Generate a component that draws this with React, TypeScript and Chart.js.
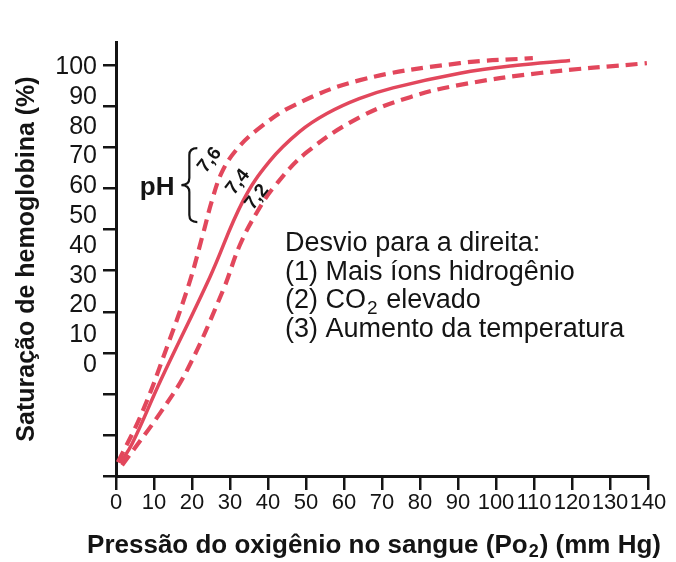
import { useEffect, useRef } from "react";
import { Chart, registerables } from "chart.js";

Chart.register(...registerables);

// ---------- data ----------
const X_TICKS = [0, 10, 20, 30, 40, 50, 60, 70, 80, 90, 100, 110, 120, 130, 140];
const Y_LABELS = [0, 10, 20, 30, 40, 50, 60, 70, 80, 90, 100];
// tick marks on the y axis (they do not coincide with the printed labels in the original figure)
const Y_TICK_MARKS = [100.7, 86.9, 73.1, 59.3, 45.5, 31.7, 17.9, 4.1, -9.7, -23.5, -37.2];
const Y_MIN = -37.2;
const Y_MAX = 108.4;

// pH 7.6 (dashed, left-shifted)
const PO2_76 = [0.5, 6.8, 13.4, 19.2, 22.9, 25.3, 27.9, 31.6, 37.1, 46.6, 64.2, 90.5, 109.7];
const SAT_76 = [-32.6, -16.1, 6.0, 27.2, 44.0, 55.4, 64.8, 72.1, 78.9, 87.0, 95.6, 101.3, 103.0];
// pH 7.4 (solid, normal)
const PO2_74 = [1.1, 4.2, 11.8, 24.7, 33.4, 40.5, 48.4, 55.5, 64.0, 72.9, 90.5, 105.0, 119.5];
const SAT_74 = [-32.9, -26.5, -5.0, 29.5, 55.0, 68.5, 78.4, 84.4, 89.4, 93.0, 97.9, 100.5, 102.2];
// pH 7.2 (dashed, right-shifted)
const PO2_72 = [1.6, 11.6, 18.7, 28.2, 32.6, 37.1, 41.8, 50.3, 64.2, 77.4, 90.5, 111.6, 139.7];
const SAT_72 = [-33.6, -16.1, -1.7, 25.2, 40.3, 51.3, 60.1, 71.5, 83.2, 89.9, 94.0, 98.0, 101.3];

const PH_VALUES = ["7,6", "7,4", "7,2"];
const PH_LABEL_X = [24.7, 32.1, 37.1];
const PH_LABEL_Y = [68.8, 61.4, 56.4];
const PH_TEXT = "pH";
const PH_POS = [15.4, 59.4];
const BRACE_X = [17.2, 19.3, 21.4]; // tip, middle, arms
const BRACE_Y = [72.8, 60.4, 48.0]; // top, tip, bottom

const NOTE_LINES = [
  "Desvio para a direita:",
  "(1) Mais íons hidrogênio",
  "(2) CO₂ elevado",
  "(3) Aumento da temperatura",
];
const NOTE_X = 44.5;
const NOTE_Y = [40.8, 31.1, 21.7, 12.0];

const X_TITLE = "Pressão do oxigênio no sangue (Po₂) (mm Hg)";
const X_TITLE_CENTER = 67.9; // in mm Hg units
const Y_TITLE = "Saturação de hemoglobina (%)";

const FONT = '"Liberation Sans", Arial, Helvetica, sans-serif';
const INK = "#141414";
const CURVE = "#e2475c";

const pts = (xs: number[], ys: number[]) => xs.map((x, i) => ({ x, y: ys[i] }));

// draws text with a lowered, smaller "2" wherever "₂" appears
function drawSubText(ctx: any, text: string, x: number, y: number, font: string, subFont: string, drop: number) {
  const parts = text.split("₂");
  parts.forEach((part, j) => {
    ctx.font = font;
    ctx.fillText(part, x, y);
    x += ctx.measureText(part).width;
    if (j < parts.length - 1) {
      ctx.font = subFont;
      ctx.fillText("2", x + 1, y + drop);
      x += ctx.measureText("2").width + 2;
    }
  });
}

function measureSubText(ctx: any, text: string, font: string, subFont: string) {
  const parts = text.split("₂");
  let w = 0;
  parts.forEach((part, j) => {
    ctx.font = font;
    w += ctx.measureText(part).width;
    if (j < parts.length - 1) {
      ctx.font = subFont;
      w += ctx.measureText("2").width + 2;
    }
  });
  return w;
}

const annotationPlugin = {
  id: "figureAnnotations",
  afterDatasetsDraw(chart: any) {
    const { ctx } = chart;
    const xs = chart.scales.x;
    const ys = chart.scales.y;
    const px = (v: number) => xs.getPixelForValue(v);
    const py = (v: number) => ys.getPixelForValue(v);
    ctx.save();
    ctx.fillStyle = INK;
    ctx.strokeStyle = INK;

    // "pH"
    ctx.font = `bold 26px ${FONT}`;
    ctx.textAlign = "right";
    ctx.textBaseline = "middle";
    ctx.fillText(PH_TEXT, px(PH_POS[0]), py(PH_POS[1]));

    // curly brace
    const xl = px(BRACE_X[0]);
    const xm = px(BRACE_X[1]);
    const xr = px(BRACE_X[2]);
    const top = py(BRACE_Y[0]);
    const mid = py(BRACE_Y[1]);
    const bot = py(BRACE_Y[2]);
    const r = 7;
    ctx.lineWidth = 2.2;
    ctx.beginPath();
    ctx.moveTo(xr, top);
    ctx.quadraticCurveTo(xm, top, xm, top + r);
    ctx.lineTo(xm, mid - r);
    ctx.quadraticCurveTo(xm, mid, xl, mid);
    ctx.quadraticCurveTo(xm, mid, xm, mid + r);
    ctx.lineTo(xm, bot - r);
    ctx.quadraticCurveTo(xm, bot, xr, bot);
    ctx.stroke();

    // pH values along the curves
    ctx.font = `bold 19px ${FONT}`;
    ctx.textAlign = "center";
    PH_VALUES.forEach((t, i) => {
      ctx.save();
      ctx.translate(px(PH_LABEL_X[i]), py(PH_LABEL_Y[i]));
      ctx.rotate((-52 * Math.PI) / 180);
      ctx.fillText(t, 0, 0);
      ctx.restore();
    });

    // note block
    ctx.textAlign = "left";
    ctx.textBaseline = "middle";
    NOTE_LINES.forEach((line, i) => {
      drawSubText(ctx, line, px(NOTE_X), py(NOTE_Y[i]), `27px ${FONT}`, `19px ${FONT}`, 8);
    });

    // x-axis title (drawn here so that it is not squeezed to the plot width)
    const tf = `bold 26px ${FONT}`;
    const sf = `bold 18px ${FONT}`;
    const w = measureSubText(ctx, X_TITLE, tf, sf);
    drawSubText(ctx, X_TITLE, px(X_TITLE_CENTER) - w / 2, xs.bottom - 16, tf, sf, 6);
    ctx.restore();
  },
};

export default function App() {
  const ref = useRef<HTMLCanvasElement | null>(null);

  useEffect(() => {
    if (!ref.current) return;
    const common = {
      pointRadius: 0,
      fill: false,
      tension: 0.4,
      borderColor: CURVE,
      borderCapStyle: "butt" as const,
      xAxisID: "x",
      yAxisID: "y",
    };
    const chart = new Chart(ref.current, {
      type: "line",
      data: {
        datasets: [
          { ...common, label: "pH 7,6", data: pts(PO2_76, SAT_76), borderWidth: 4.2, borderDash: [12, 7] },
          { ...common, label: "pH 7,4", data: pts(PO2_74, SAT_74), borderWidth: 3.5 },
          { ...common, label: "pH 7,2", data: pts(PO2_72, SAT_72), borderWidth: 4.2, borderDash: [12, 7] },
        ],
      },
      options: {
        animation: false,
        responsive: false,
        layout: { padding: { top: 42, right: 28, left: 0, bottom: 0 } },
        plugins: { legend: { display: false }, tooltip: { enabled: false } },
        scales: {
          x: {
            type: "linear",
            position: "bottom",
            min: 0,
            max: 140,
            afterBuildTicks: (s: any) => {
              s.ticks = X_TICKS.map((v) => ({ value: v }));
            },
            afterFit: (s: any) => {
              s.height = 86;
            },
            ticks: {
              font: { family: FONT, size: 22 },
              color: INK,
              padding: 0,
              maxRotation: 0,
              minRotation: 0,
              autoSkip: false,
            },
            grid: { drawOnChartArea: false, drawTicks: true, tickLength: 14, color: INK, lineWidth: 2.5 },
            border: { display: true, color: INK, width: 3 },
            title: { display: false, text: X_TITLE },
          },
          yMarks: {
            type: "linear",
            position: "left",
            weight: 0,
            min: Y_MIN,
            max: Y_MAX,
            afterBuildTicks: (s: any) => {
              s.ticks = Y_TICK_MARKS.map((v) => ({ value: v }));
            },
            afterFit: (s: any) => {
              s.width = 14;
            },
            ticks: { display: false },
            grid: { drawOnChartArea: false, drawTicks: true, tickLength: 13, color: INK, lineWidth: 2.5 },
            border: { display: true, color: INK, width: 3 },
          },
          y: {
            type: "linear",
            position: "left",
            weight: 1,
            min: Y_MIN,
            max: Y_MAX,
            afterBuildTicks: (s: any) => {
              s.ticks = Y_LABELS.map((v) => ({ value: v }));
            },
            afterFit: (s: any) => {
              s.width = 102;
            },
            ticks: { font: { family: FONT, size: 25 }, color: INK, padding: 5 },
            grid: { display: false, drawTicks: false },
            border: { display: false },
            title: {
              display: true,
              text: Y_TITLE,
              color: INK,
              font: { family: FONT, size: 25, weight: "bold", lineHeight: 1.2 },
              padding: { top: 12, bottom: 0 },
            },
          },
        },
      } as any,
      plugins: [annotationPlugin],
    });
    return () => chart.destroy();
  }, []);

  return (
    <div style={{ position: "fixed", left: 0, top: 0, width: 676, height: 562, background: "#fff" }}>
      <canvas ref={ref} width={676} height={562} />
    </div>
  );
}
